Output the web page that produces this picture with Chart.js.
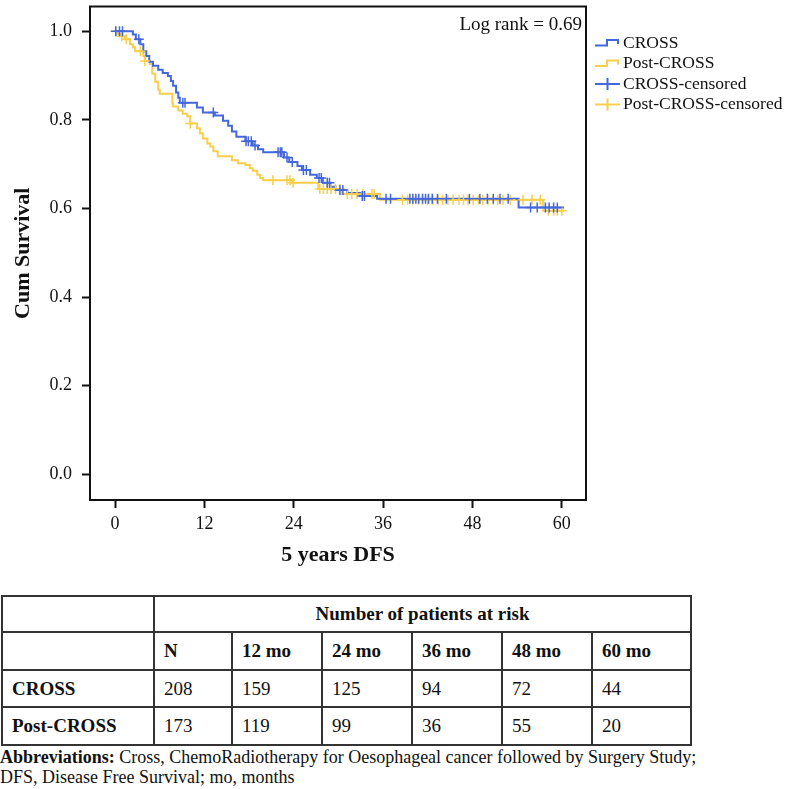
<!DOCTYPE html>
<html>
<head>
<meta charset="utf-8">
<script src="https://cdn.jsdelivr.net/npm/chart.js@4"></script>
<style>
  body { margin: 0; background: #fff; font-family: "Liberation Serif", "Times New Roman", serif; }
  #wrap { position: absolute; left: 0; top: 0; width: 786px; height: 590px; }
  #risk { position: absolute; left: 1px; top: 595px; border-collapse: collapse; font-size: 19px; color: #111; }
  #risk td { border: 2px solid #333; padding: 0 0 0 9px; text-align: left; vertical-align: middle; }
  #risk th { border: 2px solid #333; font-weight: bold; text-align: center; }
  #risk td.b { font-weight: bold; }
  #abbr { position: absolute; left: 0; top: 747px; font-size: 18px; line-height: 20px; white-space: nowrap; color: #111; }
</style>
</head>
<body>
<div id="wrap"><canvas id="km"></canvas></div>
<table id="risk"></table>
<div id="abbr"><b>Abbreviations:</b> Cross, ChemoRadiotherapy for Oesophageal cancer followed by Surgery Study;<br>DFS, Disease Free Survival; mo, months</div>
<script>
// survival curves (time in months, cumulative survival)
var crossTimes = [0, 2.4, 2.8, 3.4, 3.8, 4.2, 4.6, 5.1, 5.8, 6.4, 7.1, 7.5, 7.8, 8.2, 8.5, 8.7, 11.0, 11.8, 13.4, 14.5, 15.2, 15.7, 16.3, 17.5, 18.5, 19.2, 19.9, 22.7, 23.4, 24.5, 25.1, 26.2, 27.1, 27.9, 28.9, 29.6, 31.2, 32.9, 35.2, 54.2, 60.3];
var crossSurv = [1.0, 0.993, 0.982, 0.971, 0.955, 0.944, 0.931, 0.922, 0.913, 0.906, 0.899, 0.888, 0.877, 0.862, 0.85, 0.839, 0.828, 0.817, 0.81, 0.798, 0.787, 0.774, 0.762, 0.752, 0.742, 0.734, 0.727, 0.715, 0.705, 0.696, 0.687, 0.676, 0.669, 0.658, 0.649, 0.642, 0.635, 0.628, 0.622, 0.602, 0.602];
var crossCensored = [0.1, 0.6, 1.0, 3.2, 9.1, 9.4, 13.2, 17.6, 17.9, 18.3, 18.8, 21.9, 22.2, 22.4, 23.1, 23.8, 25.3, 25.7, 27.4, 27.7, 28.5, 28.8, 30.2, 30.6, 33.2, 33.5, 36.4, 37.0, 39.6, 40.0, 40.4, 40.8, 41.3, 41.7, 42.1, 42.6, 43.3, 44.5, 47.6, 49.0, 50.0, 50.8, 51.7, 52.8, 55.8, 56.7, 57.8, 58.3, 58.9, 59.4];

var postTimes = [0, 0.3, 0.7, 1.3, 2.0, 2.4, 2.7, 3.8, 4.0, 4.7, 5.0, 5.4, 5.8, 6.0, 7.7, 7.8, 8.5, 9.1, 9.7, 10.1, 11.0, 11.4, 11.8, 12.4, 12.8, 13.2, 13.8, 15.7, 16.5, 17.5, 18.1, 18.5, 19.1, 19.5, 19.9, 23.8, 27.3, 30.5, 35.6, 57.5, 60.3];
var postSurv = [1.0, 0.994, 0.989, 0.982, 0.971, 0.964, 0.955, 0.944, 0.933, 0.926, 0.904, 0.886, 0.868, 0.859, 0.837, 0.83, 0.821, 0.814, 0.808, 0.792, 0.781, 0.77, 0.758, 0.747, 0.74, 0.729, 0.718, 0.709, 0.702, 0.698, 0.691, 0.685, 0.676, 0.669, 0.664, 0.658, 0.644, 0.633, 0.62, 0.595, 0.595];
var postCensored = [0.1, 0.9, 1.5, 3.4, 4.0, 10.1, 21.2, 23.1, 23.5, 23.9, 27.5, 28.0, 28.5, 29.0, 29.6, 30.2, 31.2, 31.8, 32.5, 33.3, 34.5, 34.8, 38.6, 39.3, 40.0, 40.7, 41.3, 42.0, 42.7, 43.4, 44.0, 44.7, 45.4, 46.2, 46.8, 47.4, 48.1, 48.8, 49.4, 50.1, 50.8, 51.4, 52.1, 53.1, 54.8, 56.0, 57.1, 58.2, 58.9, 59.4, 60.0];

var xTicks = [0, 12, 24, 36, 48, 60];
var yTicks = [0, 0.2, 0.4, 0.6, 0.8, 1.0];

// numbers at risk table
var riskCols = ['N', '12 mo', '24 mo', '36 mo', '48 mo', '60 mo'];
var riskCross = [208, 159, 125, 94, 72, 44];
var riskPost = [173, 119, 99, 36, 55, 20];

var blue = '#4468dc';
var yellow = '#f8ce4a';

function survAt(times, surv, t) {
    var s = surv[0];
    for (var i = 0; i < times.length; i++) {
        if (times[i] <= t) s = surv[i];
    }
    return s;
}
function curve(times, surv) {
    return times.map(function (t, i) { return { x: t, y: surv[i] }; });
}
function marks(cens, times, surv) {
    return cens.map(function (t) { return { x: t, y: survAt(times, surv, t) }; });
}

// table
var tbl = document.getElementById('risk');
var colW = [152, 78, 90, 90, 90, 90, 99];
var h = '<tr style="height:36px"><td style="width:' + (colW[0] - 11) + 'px"></td><th colspan="6">Number of patients at risk</th></tr>';
h += '<tr style="height:38px"><td></td>' + riskCols.map(function (c, i) {
    return '<td class="b" style="width:' + (colW[i + 1] - 11) + 'px">' + c + '</td>';
}).join('') + '</tr>';
h += '<tr style="height:37px"><td class="b">CROSS</td>' + riskCross.map(function (v) { return '<td>' + v + '</td>'; }).join('') + '</tr>';
h += '<tr style="height:38px"><td class="b">Post-CROSS</td>' + riskPost.map(function (v) { return '<td>' + v + '</td>'; }).join('') + '</tr>';
tbl.innerHTML = h;

Chart.defaults.font.family = '"Liberation Serif", "Times New Roman", serif';
Chart.defaults.color = '#111';

const framePlugin = {
    id: 'frame',
    beforeDatasetsDraw(chart) {
        const a = chart.chartArea, ctx = chart.ctx;
        ctx.save();
        ctx.strokeStyle = '#111';
        ctx.lineWidth = 2;
        ctx.strokeRect(a.left, a.top, a.right - a.left, a.bottom - a.top);
        ctx.restore();
    },
    afterDraw(chart) {
        const a = chart.chartArea, ctx = chart.ctx;
        ctx.save();
        ctx.fillStyle = '#111';
        ctx.font = '19px "Liberation Serif"';
        ctx.textAlign = 'right';
        ctx.textBaseline = 'middle';
        ctx.fillText('Log rank = 0.69', a.right - 4, a.top + 19);

        // legend
        ctx.font = '17.5px "Liberation Serif"';
        ctx.textAlign = 'left';
        chart.data.datasets.forEach(function (ds, i) {
            const y = 43 + i * 20.5, x0 = 595;
            ctx.strokeStyle = ds.borderColor;
            ctx.lineWidth = 2;
            ctx.beginPath();
            if (ds.type === 'line') {
                ctx.moveTo(x0, y + 2.5); ctx.lineTo(x0 + 12, y + 2.5);
                ctx.lineTo(x0 + 12, y - 3); ctx.lineTo(x0 + 23, y - 3);
                ctx.lineTo(x0 + 23, y + 1);
            } else {
                ctx.moveTo(x0, y); ctx.lineTo(x0 + 25, y);
                ctx.moveTo(x0 + 12.5, y - 6); ctx.lineTo(x0 + 12.5, y + 6);
            }
            ctx.stroke();
            ctx.fillText(ds.label, 623, y);
        });
        ctx.restore();
    }
};

new Chart(document.getElementById('km'), {
    data: {
        datasets: [{
            type: 'line',
            label: 'CROSS',
            data: curve(crossTimes, crossSurv),
            borderColor: blue,
            borderWidth: 2,
            stepped: 'before',
            pointRadius: 0,
            order: 2
        }, {
            type: 'line',
            label: 'Post-CROSS',
            data: curve(postTimes, postSurv),
            borderColor: yellow,
            borderWidth: 2,
            stepped: 'before',
            pointRadius: 0,
            order: 3
        }, {
            type: 'scatter',
            label: 'CROSS-censored',
            data: marks(crossCensored, crossTimes, crossSurv),
            borderColor: blue,
            backgroundColor: blue,
            pointStyle: 'cross',
            pointRadius: 5,
            borderWidth: 1.5,
            order: 0
        }, {
            type: 'scatter',
            label: 'Post-CROSS-censored',
            data: marks(postCensored, postTimes, postSurv),
            borderColor: yellow,
            backgroundColor: yellow,
            pointStyle: 'cross',
            pointRadius: 5,
            borderWidth: 1.5,
            order: 1
        }]
    },
    options: {
        responsive: true,
        maintainAspectRatio: false,
        animation: false,
        layout: { padding: { left: 0, top: 2, right: 200, bottom: 0 } },
        plugins: { legend: { display: false }, tooltip: { enabled: false } },
        scales: {
            x: {
                type: 'linear',
                min: -3.36,
                max: 63.25,
                afterBuildTicks: function (s) { s.ticks = xTicks.map(function (v) { return { value: v }; }); },
                afterFit: function (s) { s.height = 90; s.paddingLeft = 0; s.paddingRight = 0; },
                grid: { drawOnChartArea: false, drawTicks: true, tickLength: 8, tickWidth: 2, tickColor: '#111' },
                border: { display: false },
                ticks: { font: { size: 18 }, padding: 5, maxRotation: 0, color: '#111' },
                title: { display: true, text: '5 years DFS', font: { size: 22, weight: 'bold' }, padding: { top: 0, bottom: 21 }, color: '#111' }
            },
            y: {
                type: 'linear',
                min: -0.058,
                max: 1.056,
                afterBuildTicks: function (s) { s.ticks = yTicks.map(function (v) { return { value: v }; }); },
                afterFit: function (s) { s.width = 90; s.paddingTop = 0; s.paddingBottom = 0; },
                grid: { drawOnChartArea: false, drawTicks: true, tickLength: 8, tickWidth: 2, tickColor: '#111' },
                border: { display: false },
                ticks: { font: { size: 18 }, padding: 10, color: '#111', callback: function (v) { return v.toFixed(1); } },
                title: { display: true, text: 'Cum Survival', font: { size: 22, weight: 'bold' }, padding: { top: 10, bottom: 0 }, color: '#111' }
            }
        }
    },
    plugins: [framePlugin]
});
</script>
</body>
</html>
